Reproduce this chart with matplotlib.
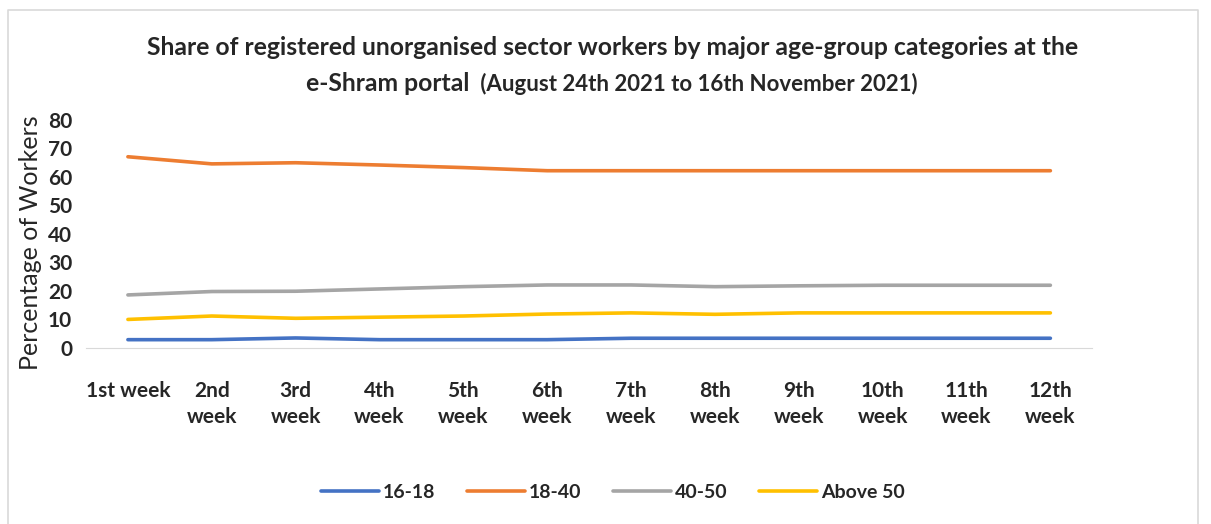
import matplotlib.pyplot as plt
import numpy as np

plt.rcParams['font.family'] = ['Lato', 'DejaVu Sans']

weeks = ['1st week', '2nd\nweek', '3rd\nweek', '4th\nweek', '5th\nweek', '6th\nweek',
         '7th\nweek', '8th\nweek', '9th\nweek', '10th\nweek', '11th\nweek', '12th\nweek']

age_16_18 = [2.9, 2.9, 3.5, 2.9, 2.9, 2.9, 3.4, 3.4, 3.4, 3.4, 3.4, 3.4]
age_18_40 = [67.1, 64.6, 65.0, 64.2, 63.3, 62.2, 62.2, 62.2, 62.2, 62.2, 62.2, 62.2]
age_40_50 = [18.6, 19.8, 19.9, 20.7, 21.5, 22.1, 22.1, 21.5, 21.8, 22.0, 22.0, 22.0]
above_50 = [10.0, 11.2, 10.4, 10.8, 11.2, 11.9, 12.3, 11.8, 12.3, 12.3, 12.3, 12.3]

series = {
    '16-18': age_16_18,
    '18-40': age_18_40,
    '40-50': age_40_50,
    'Above 50': above_50,
}
colors = ['#4472C4', '#ED7D31', '#A5A5A5', '#FFC000']
text_col = '#262626'

fig = plt.figure(figsize=(12.11, 5.24), dpi=100)
ax = fig.add_axes([0.071, 0.336, 0.831, 0.435])

x = np.arange(len(weeks))
for (name, vals), c in zip(series.items(), colors):
    ax.plot(x, vals, color=c, linewidth=2.6, label=name, solid_capstyle='round')

ax.set_xlim(-0.5, len(weeks) - 0.5)
ax.set_ylim(0, 80)
ax.set_yticks(range(0, 81, 10))
ax.set_xticks(x, weeks)
for s in ['top', 'right', 'left']:
    ax.spines[s].set_visible(False)
ax.spines['bottom'].set_color('#D9D9D9')
ax.tick_params(axis='both', length=0, labelsize=15, colors=text_col)
ax.tick_params(axis='x', pad=24)
ax.tick_params(axis='y', pad=10)
for lab in ax.get_xticklabels() + ax.get_yticklabels():
    lab.set_fontweight('bold')
    lab.set_linespacing(1.35)
ax.set_ylabel('Percentage of Workers', fontsize=18, color=text_col)
ax.yaxis.set_label_coords(-0.044, 0.46)

fig.text(0.506, 0.91, 'Share of registered unorganised sector workers by major age-group categories at the',
         ha='center', va='center', fontsize=17.8, fontweight='bold', color=text_col)
fig.text(0.388, 0.84, 'e-Shram portal', ha='right', va='center', fontsize=17.8,
         fontweight='bold', color=text_col)
fig.text(0.392, 0.84, ' (August 24th 2021 to 16th November 2021)', ha='left', va='center',
         fontsize=16, fontweight='bold', color=text_col)

leg = fig.legend(loc='center', bbox_to_anchor=(0.506, 0.06), ncol=4, frameon=False,
                 fontsize=14, handlelength=3.0, handletextpad=0.2, columnspacing=1.6)
for t in leg.get_texts():
    t.set_fontweight('bold')
    t.set_color(text_col)

# outer chart-area frame
fig.add_artist(plt.Line2D([0.007, 0.007, 0.989, 0.989], [0.0, 0.981, 0.981, 0.0],
                          transform=fig.transFigure, color='#D9D9D9', linewidth=1.2))

fig.savefig('out.png', dpi=100)
